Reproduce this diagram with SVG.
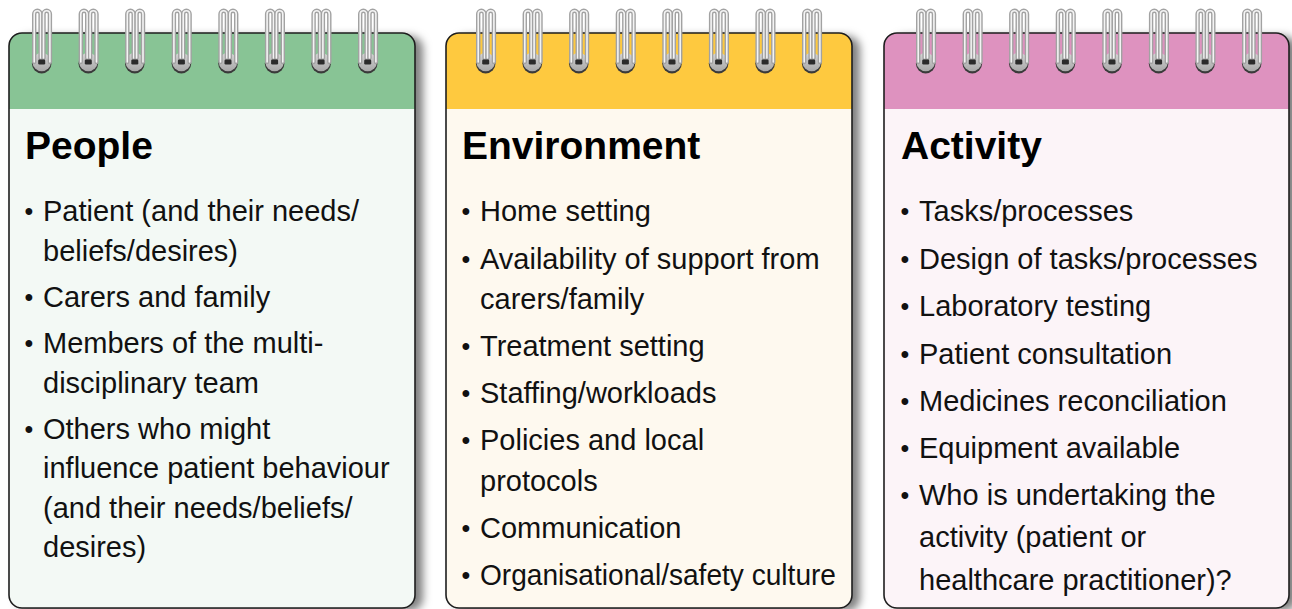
<svg xmlns="http://www.w3.org/2000/svg" width="1292" height="609" viewBox="0 0 1292 609">
<style>
.outline{fill:none;stroke:#1e1e1e;stroke-width:1.6}
.h{font-family:"Liberation Sans",Arial,Helvetica,sans-serif;font-weight:bold;font-size:39px;fill:#000}
.t{font-family:"Liberation Sans",Arial,Helvetica,sans-serif;font-size:29px;fill:#111}
.b{font-family:"Liberation Sans",Arial,Helvetica,sans-serif;font-size:25px;fill:#111}
.archBase{fill:none;stroke:#a2a2a2;stroke-width:4.4;stroke-linecap:round}
.archHi{fill:none;stroke:#f4f4f4;stroke-width:1.6;stroke-linecap:round}
</style>
<defs>
<filter id="shadow" x="-5%" y="-5%" width="115%" height="112%">
<feDropShadow dx="8" dy="3" stdDeviation="4" flood-color="#000" flood-opacity="0.5"/>
</filter>
<linearGradient id="discGrad" x1="0" y1="0" x2="0" y2="1">
<stop offset="0" stop-color="#d6d6d6"/>
<stop offset="1" stop-color="#a8a8a8"/>
</linearGradient>
<g id="ring">
<circle cx="0" cy="1.6" r="9.8" fill="#3a3a3a"/>
<circle cx="0" cy="0" r="9.2" fill="url(#discGrad)"/>
<path class="archBase" d="M-7.5,0 V-48 A3.2,3.2 0 0 1 -1.1,-48 V-4"/>
<path class="archHi" d="M-7.5,0 V-48 A3.2,3.2 0 0 1 -1.1,-48 V-4"/>
<path class="archBase" d="M1.8,-4 V-48 A3.2,3.2 0 0 1 8.2,-48 V0"/>
<path class="archHi" d="M1.8,-4 V-48 A3.2,3.2 0 0 1 8.2,-48 V0"/>
<rect x="-3.5" y="-2.5" width="7" height="5" rx="1.2" fill="#2b2b2b"/>
</g>
</defs>
<rect x="0" y="0" width="1292" height="609" fill="#ffffff"/>

<g id="people">
<rect x="9" y="33" width="406" height="575" rx="13" fill="#F3F9F5" filter="url(#shadow)"/>
<path d="M9,109 V46 A13,13 0 0 1 22,33 H402 A13,13 0 0 1 415,46 V109 Z" fill="#88C495"/>
<rect class="outline" x="9" y="33" width="406" height="575" rx="13"/>
<use href="#ring" x="41.7" y="62"/>
<use href="#ring" x="88.3" y="62"/>
<use href="#ring" x="134.8" y="62"/>
<use href="#ring" x="181.4" y="62"/>
<use href="#ring" x="228" y="62"/>
<use href="#ring" x="274.6" y="62"/>
<use href="#ring" x="321.1" y="62"/>
<use href="#ring" x="367.7" y="62"/>
<text class="h" x="25" y="159">People</text>
<text class="b" x="24.5" y="220">•</text><text class="t" x="43" y="221">Patient (and their needs/</text>
<text class="t" x="43" y="260.5">beliefs/desires)</text>
<text class="b" x="24.5" y="306">•</text><text class="t" x="43" y="307">Carers and family</text>
<text class="b" x="24.5" y="352">•</text><text class="t" x="43" y="353">Members of the multi-</text>
<text class="t" x="43" y="392.5">disciplinary team</text>
<text class="b" x="24.5" y="437.5">•</text><text class="t" x="43" y="438.5">Others who might</text>
<text class="t" x="43" y="478">influence patient behaviour</text>
<text class="t" x="43" y="517.5">(and their needs/beliefs/</text>
<text class="t" x="43" y="557">desires)</text>
</g>

<g id="environment">
<rect x="446" y="33" width="406" height="575" rx="13" fill="#FEF9EF" filter="url(#shadow)"/>
<path d="M446,109 V46 A13,13 0 0 1 459,33 H839 A13,13 0 0 1 852,46 V109 Z" fill="#FEC93F"/>
<rect class="outline" x="446" y="33" width="406" height="575" rx="13"/>
<use href="#ring" x="485.7" y="62"/>
<use href="#ring" x="532.3" y="62"/>
<use href="#ring" x="578.8" y="62"/>
<use href="#ring" x="625.4" y="62"/>
<use href="#ring" x="672" y="62"/>
<use href="#ring" x="718.6" y="62"/>
<use href="#ring" x="765.1" y="62"/>
<use href="#ring" x="811.7" y="62"/>
<text class="h" x="462" y="159">Environment</text>
<text class="b" x="461.5" y="220">•</text><text class="t" x="480" y="221">Home setting</text>
<text class="b" x="461.5" y="268">•</text><text class="t" x="480" y="269">Availability of support from</text>
<text class="t" x="480" y="309">carers/family</text>
<text class="b" x="461.5" y="355">•</text><text class="t" x="480" y="356">Treatment setting</text>
<text class="b" x="461.5" y="402">•</text><text class="t" x="480" y="403">Staffing/workloads</text>
<text class="b" x="461.5" y="449">•</text><text class="t" x="480" y="450">Policies and local</text>
<text class="t" x="480" y="491">protocols</text>
<text class="b" x="461.5" y="537">•</text><text class="t" x="480" y="538">Communication</text>
<text class="b" x="461.5" y="584">•</text><text class="t" x="480" y="585" textLength="356" lengthAdjust="spacingAndGlyphs">Organisational/safety culture</text>
</g>

<g id="activity">
<rect x="884" y="33" width="405" height="575" rx="13" fill="#FCF4F8" filter="url(#shadow)"/>
<path d="M884,109 V46 A13,13 0 0 1 897,33 H1276 A13,13 0 0 1 1289,46 V109 Z" fill="#DE92BF"/>
<rect class="outline" x="884" y="33" width="405" height="575" rx="13"/>
<use href="#ring" x="925.7" y="62"/>
<use href="#ring" x="972.3" y="62"/>
<use href="#ring" x="1018.8" y="62"/>
<use href="#ring" x="1065.4" y="62"/>
<use href="#ring" x="1112" y="62"/>
<use href="#ring" x="1158.6" y="62"/>
<use href="#ring" x="1205.1" y="62"/>
<use href="#ring" x="1251.7" y="62"/>
<text class="h" x="901" y="159">Activity</text>
<text class="b" x="900.5" y="220">•</text><text class="t" x="919" y="221">Tasks/processes</text>
<text class="b" x="900.5" y="267.5">•</text><text class="t" x="919" y="268.5">Design of tasks/processes</text>
<text class="b" x="900.5" y="315">•</text><text class="t" x="919" y="316">Laboratory testing</text>
<text class="b" x="900.5" y="362.5">•</text><text class="t" x="919" y="363.5">Patient consultation</text>
<text class="b" x="900.5" y="410">•</text><text class="t" x="919" y="411">Medicines reconciliation</text>
<text class="b" x="900.5" y="457">•</text><text class="t" x="919" y="458">Equipment available</text>
<text class="b" x="900.5" y="503.5">•</text><text class="t" x="919" y="504.5">Who is undertaking the</text>
<text class="t" x="919" y="547">activity (patient or</text>
<text class="t" x="919" y="589.5">healthcare practitioner)?</text>
</g>
</svg>
